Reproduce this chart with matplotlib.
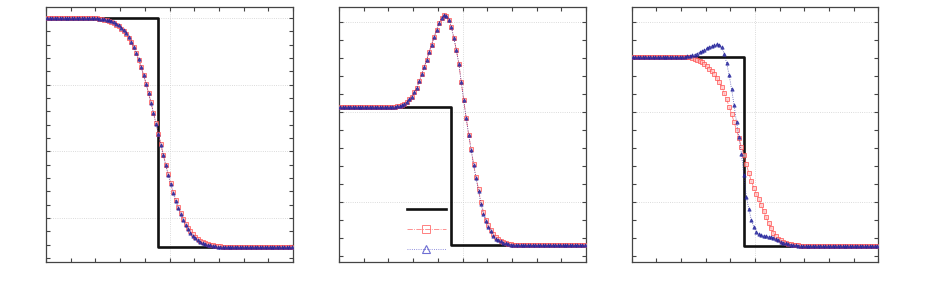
import numpy as np
import matplotlib
matplotlib.use("Agg")
import matplotlib.pyplot as plt
from matplotlib.ticker import MultipleLocator, NullFormatter
from matplotlib.lines import Line2D

# ---------------- data ----------------
n_cells = 100
x_cells = (np.arange(n_cells) + 0.5) / n_cells

# panel 1
exact1_x = [0.0, 0.453, 0.453, 1.0]
exact1_y = [1.0, 1.0, 0.141, 0.141]
blue1 = ([1.0] * 18 +
         [0.999, 0.999, 0.998, 0.997, 0.997, 0.995, 0.993, 0.991, 0.988, 0.984,
          0.978, 0.972, 0.964, 0.954, 0.943, 0.928, 0.911, 0.892, 0.870, 0.845,
          0.817, 0.787, 0.754, 0.719, 0.682, 0.644, 0.604, 0.564, 0.525, 0.485,
          0.447, 0.411, 0.376, 0.344, 0.315, 0.288, 0.264, 0.243, 0.224, 0.208,
          0.195, 0.184, 0.174, 0.167, 0.161, 0.156, 0.152, 0.149, 0.147, 0.145,
          0.144, 0.143, 0.142] +
         [0.141] * 29)
red1 = ([1.0] * 18 +
        [0.999, 0.999, 0.998, 0.997, 0.996, 0.994, 0.992, 0.989, 0.985, 0.980,
         0.975, 0.968, 0.960, 0.951, 0.940, 0.926, 0.909, 0.890, 0.868, 0.843,
         0.816, 0.786, 0.754, 0.719, 0.683, 0.645, 0.606, 0.566, 0.527, 0.488,
         0.450, 0.414, 0.380, 0.348, 0.319, 0.293, 0.269, 0.248, 0.228, 0.213,
         0.200, 0.189, 0.180, 0.172, 0.165, 0.160, 0.156, 0.152, 0.150, 0.148,
         0.146, 0.145, 0.144, 0.143, 0.142] +
        [0.141] * 27)

# panel 2
exact2_x = [0.0, 0.455, 0.455, 1.0]
exact2_y = [2.056, 2.056, 0.517, 0.517]
blue2 = ([2.056] * 21 +
         [2.057, 2.059, 2.063, 2.070, 2.080, 2.094, 2.113, 2.139, 2.172, 2.217,
          2.272, 2.344, 2.422, 2.500, 2.578, 2.667, 2.750, 2.833, 2.911, 2.989,
          3.044, 3.076, 3.069, 3.028, 2.944, 2.822, 2.689, 2.539, 2.333, 2.128,
          1.933, 1.744, 1.578, 1.411, 1.261, 1.122, 0.975, 0.865, 0.785, 0.722,
          0.672, 0.622, 0.594, 0.578, 0.561, 0.548, 0.539, 0.533, 0.527, 0.522,
          0.519] +
         [0.517] * 28)
red2 = ([2.056] * 21 +
        [2.057, 2.059, 2.063, 2.070, 2.080, 2.094, 2.113, 2.139, 2.172, 2.217,
         2.272, 2.344, 2.422, 2.500, 2.578, 2.667, 2.750, 2.833, 2.911, 2.989,
         3.044, 3.076, 3.069, 3.028, 2.944, 2.822, 2.689, 2.539, 2.333, 2.128,
         1.933, 1.748, 1.585, 1.420, 1.275, 1.140, 0.995, 0.890, 0.805, 0.740,
         0.688, 0.640, 0.608, 0.588, 0.570, 0.556, 0.545, 0.537, 0.530, 0.525,
         0.521, 0.519] +
        [0.517] * 27)

# panel 3
exact3_x = [0.0, 0.454, 0.454, 1.0]
exact3_y = [2.611, 2.611, 0.511, 0.511]
blue3 = ([2.611] * 21 +
         [2.613, 2.617, 2.622, 2.630, 2.639, 2.650, 2.663, 2.678, 2.692, 2.708,
          2.722, 2.736, 2.747, 2.753, 2.750, 2.717, 2.650, 2.544, 2.411, 2.256,
          2.078, 1.889, 1.722, 1.533, 1.300, 1.056, 0.922, 0.800, 0.722, 0.667,
          0.639, 0.628, 0.622, 0.619, 0.616, 0.611, 0.604, 0.592, 0.576, 0.560,
          0.548, 0.539, 0.531, 0.526, 0.521, 0.518, 0.516, 0.513] +
         [0.511] * 31)
red3 = ([2.611] * 23 +
        [2.608, 2.602, 2.594, 2.583, 2.569, 2.552, 2.533, 2.511, 2.483, 2.452,
         2.417, 2.378, 2.333, 2.278, 2.211, 2.139, 2.061, 1.978, 1.889, 1.800,
         1.706, 1.611, 1.517, 1.417, 1.322, 1.233, 1.156, 1.089, 1.028, 0.967,
         0.900, 0.833, 0.767, 0.706, 0.656, 0.619, 0.593, 0.574, 0.559, 0.547,
         0.538, 0.531, 0.526, 0.521, 0.518, 0.516, 0.513] +
        [0.511] * 30)

legend_labels = ["", "", ""]

# ---------------- style ----------------
RED = "#ff4a4a"
BLUE = "#24249c"
SPINE = "#444444"

fig = plt.figure(figsize=(9.25, 3.0), dpi=100)
W, H = 925.0, 300.0
rects = [(46, 247), (339, 247), (631.7, 246.6)]
axes = [fig.add_axes([l / W, 38 / H, w / W, 255 / H]) for l, w in rects]

panels = [
    (exact1_x, exact1_y, red1, blue1, (0.085, 1.041), 0.25, 0.05),
    (exact2_x, exact2_y, red2, blue2, (0.333, 3.167), 1.0, 0.2),
    (exact3_x, exact3_y, red3, blue3, (0.333, 3.167), 1.0, 0.2),
]

red_kw = dict(color=RED, ls="-.", lw=0.6, marker="s", ms=3.0,
              mfc="#ffc4c4", mec=RED, mew=0.7, alpha=0.7)
blue_kw = dict(color=BLUE, ls=":", lw=0.6, marker="^", ms=2.4,
               mfc=BLUE, mec=BLUE, mew=0.6, alpha=0.8)

for ax, (ex, ey, r, b, ylim, ymaj, ymin) in zip(axes, panels):
    ax.plot(ex, ey, color="#111111", lw=1.9, zorder=3)
    ax.plot(x_cells, r, zorder=4, **red_kw)
    ax.plot(x_cells, b, zorder=5, **blue_kw)
    ax.set_xlim(0, 1)
    ax.set_ylim(*ylim)
    ax.xaxis.set_major_locator(MultipleLocator(0.5))
    ax.xaxis.set_minor_locator(MultipleLocator(0.1))
    ax.yaxis.set_major_locator(MultipleLocator(ymaj))
    ax.yaxis.set_minor_locator(MultipleLocator(ymin))
    ax.xaxis.set_major_formatter(NullFormatter())
    ax.yaxis.set_major_formatter(NullFormatter())
    ax.tick_params(which="both", direction="in", top=True, right=True,
                   length=3, width=0.8, color=SPINE)
    ax.grid(True, which="major", ls=":", lw=0.6, color="#cfcfcf")
    for s in ax.spines.values():
        s.set_color(SPINE)
        s.set_linewidth(0.9)

leg_red = dict(red_kw)
leg_red.update(mfc="none", ms=2.6)
leg_blue = dict(blue_kw)
leg_blue.update(mfc="none", ms=2.6, mew=0.8, color="#4a4ac8", mec="#4a4ac8")
handles = [
    Line2D([], [], color="#111111", lw=1.9),
    Line2D([], [], **leg_red),
    Line2D([], [], **leg_blue),
]
axes[1].legend(handles, legend_labels, loc="upper left",
               bbox_to_anchor=(0.275, 0.233), frameon=False, fontsize=10,
               handlelength=2.8, markerscale=2.3, borderpad=0,
               borderaxespad=0, labelspacing=0.45, numpoints=1)

fig.savefig("out.png", dpi=100)
